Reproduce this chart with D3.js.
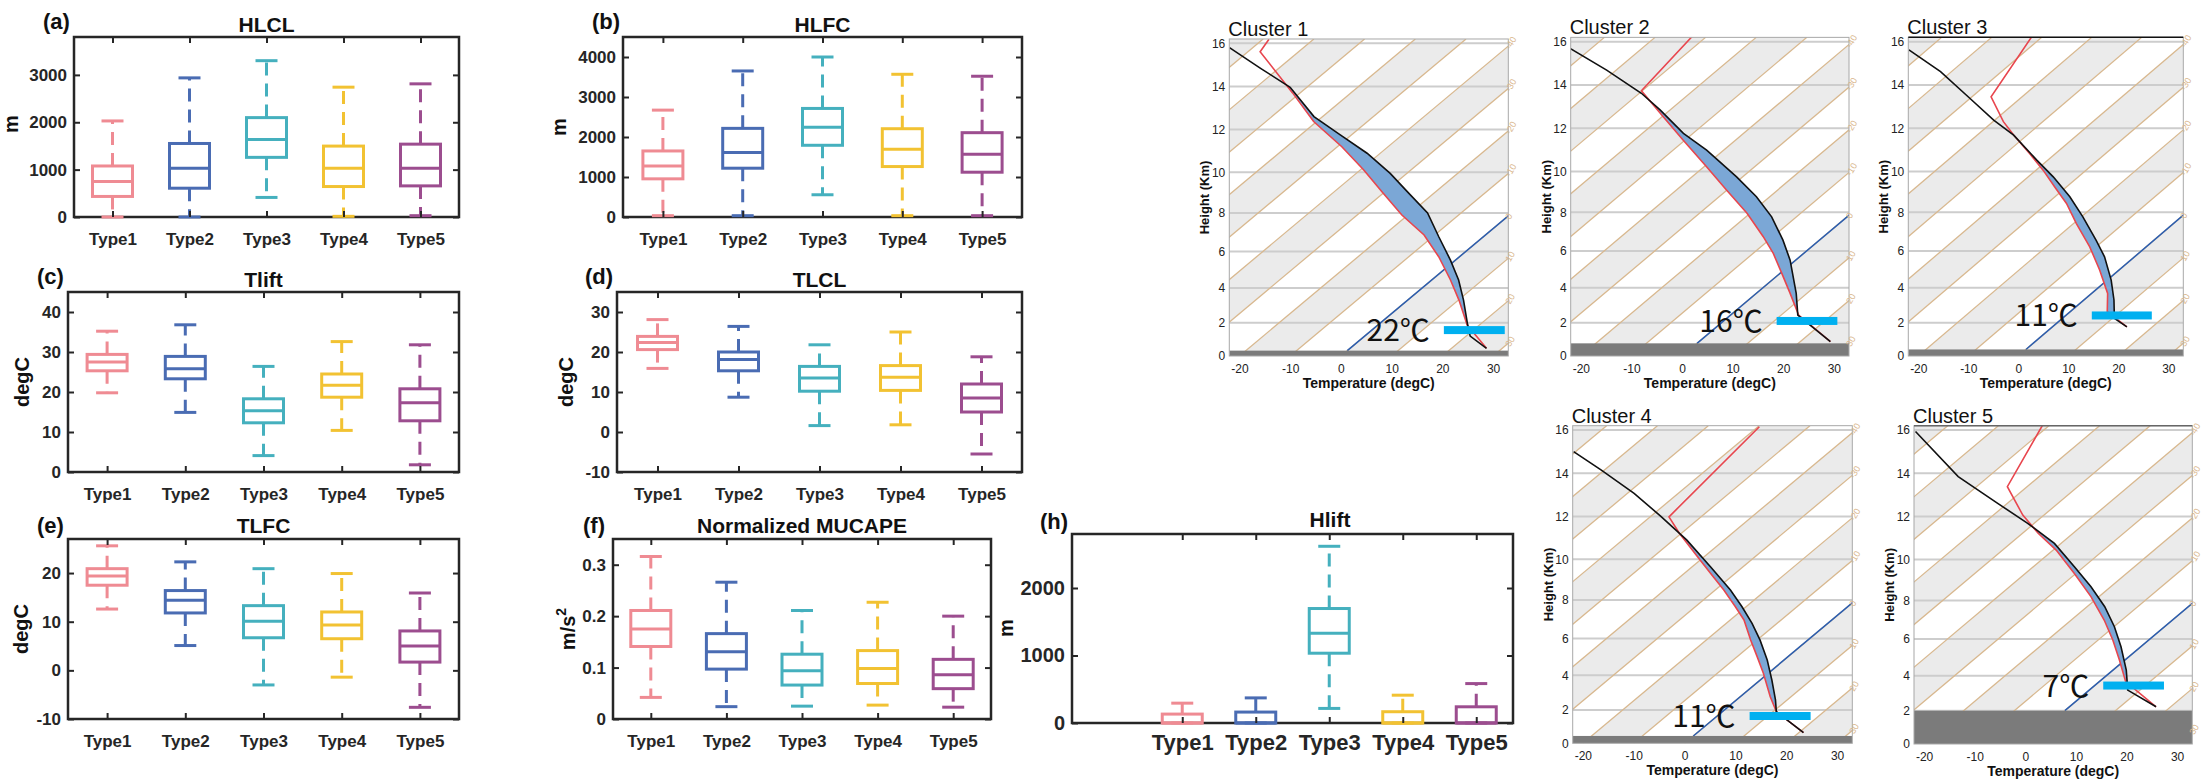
<!DOCTYPE html>
<meta charset="utf-8">
<body style="margin:0">
<script src="https://d3js.org/d3.v7.min.js"></script>
<script>

// Canvas

var width = 2205,
    height = 780;

var svg = d3.select("body").append("svg")
    .attr("width", width)
    .attr("height", height)
    .style("background", "#fff")
    .style("font-family", "'Liberation Sans', Arial, sans-serif");

// ---------- Box plot data: [lower whisker, q1, median, q3, upper whisker] ----------

var types = ["Type1", "Type2", "Type3", "Type4", "Type5"];
var typeColors = ["#ef8b93", "#4a6cb3", "#45b0be", "#f2c232", "#9c4d8f"];

var hlcl = [[0, 434, 748, 1077, 2028], [0, 608, 1028, 1552, 2937], [413, 1259, 1636, 2098, 3300],
            [14, 643, 1028, 1497, 2741], [28, 657, 1028, 1538, 2811]];
var hlfc = [[33, 954, 1278, 1651, 2672], [33, 1220, 1610, 2216, 3651], [556, 1793, 2241, 2714, 4000],
            [33, 1261, 1693, 2207, 3568], [33, 1120, 1568, 2108, 3519]];
var tlift = [[19.8, 25.3, 27.5, 29.4, 35.2], [14.9, 23.3, 25.8, 28.9, 36.8], [4.1, 12.3, 15.3, 18.3, 26.4],
             [10.4, 18.7, 21.7, 24.5, 32.6], [1.8, 12.8, 17.3, 20.8, 31.8]];
var tlcl = [[15.9, 20.6, 22.4, 23.9, 28.1], [8.7, 15.3, 18.1, 20.0, 26.4], [1.6, 10.2, 13.5, 16.4, 21.8],
            [1.8, 10.4, 13.7, 16.6, 25.0], [-5.5, 5.0, 8.5, 12.0, 18.8]];
var tlfc = [[12.6, 17.5, 19.4, 20.9, 25.6], [5.1, 11.8, 14.4, 16.4, 22.3], [-3.0, 6.7, 10.1, 13.3, 20.9],
            [-1.4, 6.5, 9.3, 12.0, 19.9], [-7.6, 1.7, 5.0, 8.1, 15.9]];
var mucape = [[0.042, 0.141, 0.175, 0.211, 0.316], [0.024, 0.097, 0.131, 0.166, 0.266], [0.025, 0.066, 0.094, 0.126, 0.211],
              [0.027, 0.069, 0.098, 0.133, 0.227], [0.023, 0.059, 0.086, 0.116, 0.200]];
var hlift = [[0, 0, 0, 132, 294], [0, 0, 0, 162, 372], [216, 1034, 1328, 1696, 2618],
             [0, 0, 0, 167, 412], [0, 0, 0, 240, 584]];

var hlclTicks = [0, 1000, 2000, 3000];
var hlfcTicks = [0, 1000, 2000, 3000, 4000];
var tliftTicks = [0, 10, 20, 30, 40];
var tlclTicks = [-10, 0, 10, 20, 30];
var tlfcTicks = [-10, 0, 10, 20];
var mucapeTicks = [0, 0.1, 0.2, 0.3];
var hliftTicks = [0, 1000, 2000];

// ---------- Sounding data: [height km, temperature degC] ----------

var clusterNames = ["Cluster 1", "Cluster 2", "Cluster 3", "Cluster 4", "Cluster 5"];
var lclLabels = ["22\u2103", "16\u2103", "11\u2103", "11\u2103", "7\u2103"];
var lclKm = [1.57, 2.1, 2.42, 1.65, 3.45];
var groundKm = [0.33, 0.77, 0.4, 0.45, 2.0];
var heightTicks = [0, 2, 4, 6, 8, 10, 12, 14, 16];
var tempTicks = [-20, -10, 0, 10, 20, 30];
var isoLabels = [-40, -30, -20, -10, 0, 10, 20, 30];

var env1 = [[0.47, 26.9], [1.87, 17.6], [3.32, 10.1], [4.45, 3.7], [5.72, -4.1], [6.87, -12.1], [7.9, -21.2],
            [9.06, -30.6], [10.11, -39.3], [11.2, -49.1], [12.37, -60.6], [13.7, -71.5], [15.61, -87.6], [16.19, -88.8]];
var parcel1 = [[0.47, 26.9], [1.21, 20.8], [1.87, 17.7], [3.32, 11.0], [4.45, 5.3], [5.54, -1.0], [6.78, -8.8],
               [8.0, -16.6], [8.98, -24.9], [9.95, -33.3], [10.9, -42.6], [11.75, -52.2], [12.6, -61.7],
               [13.96, -73.3], [14.84, -83.6], [15.8, -94.6]];

var env2 = [[0.87, 25.97], [2.44, 13.46], [3.68, 6.7], [4.79, 0.37], [5.87, -6.0], [6.75, -11.9], [7.95, -20.6],
            [9.1, -30.1], [10.22, -39.5], [11.46, -50.4], [12.54, -59.8], [13.74, -70.2], [16.26, -72.9]];
var parcel2 = [[0.87, 25.97], [2.44, 13.3], [3.68, 7.9], [5.51, -1.1], [6.57, -7.2], [7.77, -14.9], [8.77, -22.6],
               [9.74, -31.2], [11.0, -43.4], [11.77, -51.9], [12.85, -62.0], [13.62, -69.6], [14.69, -81.9], [15.69, -94.2]];

var env3 = [[1.75, 14.9], [2.64, 7.4], [3.68, 3.2], [4.98, -3.9], [6.22, -11.3], [7.44, -19.5], [8.44, -26.1],
            [9.26, -32.4], [10.06, -38.6], [10.84, -45.2], [11.69, -52.7], [12.31, -57.9], [13.46, -66.2], [16.26, -72.2]];
var parcel3 = [[1.75, 14.9], [2.25, 10.4], [3.31, 6.0], [4.42, 0.8], [5.69, -6.0], [6.57, -11.6], [7.77, -19.7],
               [8.77, -27.0], [9.74, -35.0], [10.53, -42.2], [11.69, -52.7], [12.38, -60.2], [13.38, -70.0],
               [14.62, -82.2], [15.62, -93.6]];

var env4 = [[0.65, 20.9], [1.91, 10.6], [2.78, 5.9], [4.1, -0.9], [5.03, -6.1], [5.93, -11.3], [6.98, -17.3],
            [7.66, -22.1], [8.5, -28.3], [9.32, -34.8], [10.12, -41.3], [11.22, -50.4], [11.98, -56.3], [16.15, -59.7]];
var parcel4 = [[0.65, 20.9], [1.91, 10.6], [2.59, 7.7], [3.73, 2.3], [4.84, -3.3], [5.92, -9.4], [6.8, -14.9],
               [7.66, -20.8], [8.5, -27.0], [9.64, -36.4], [10.9, -47.3], [12.0, -58.0], [13.07, -68.7],
               [14.15, -80.7], [15.0, -90.4]];

var env5 = [[2.23, 17.1], [3.67, 5.2], [4.87, -1.1], [5.95, -7.1], [7.0, -13.5], [8.19, -21.6], [9.33, -30.3],
            [10.45, -39.4], [11.23, -46.9], [12.07, -54.2], [13.38, -63.9], [16.23, -71.4]];
var parcel5 = [[2.23, 17.1], [3.19, 7.6], [4.32, 2.6], [5.59, -3.9], [6.65, -9.9], [7.68, -16.5], [8.68, -23.9],
               [9.66, -31.9], [10.76, -41.3], [11.69, -51.3], [12.61, -61.9], [13.85, -76.0], [15.93, -95.0]];

var envs = [env1, env2, env3, env4, env5];
var parcels = [parcel1, parcel2, parcel3, parcel4, parcel5];

// ---------- Box plot panels ----------

var boxPanels = [
  {tag: "(a)", title: "HLCL", stats: hlcl, domain: [0, 3800], ticks: hlclTicks, x0: 74, x1: 459, y0: 37, y1: 217,
   tagX: 43, tagY: 29, titleX: 266.5, titleY: 32, unitX: 18, unitY: 124, xDomain: [0.5, 5.5]},
  {tag: "(b)", title: "HLFC", stats: hlfc, domain: [0, 4500], ticks: hlfcTicks, x0: 623, x1: 1022, y0: 37, y1: 217,
   tagX: 592, tagY: 29, titleX: 822.5, titleY: 32, unitX: 566, unitY: 127, xDomain: [0.5, 5.5]},
  {tag: "(c)", title: "Tlift", stats: tlift, domain: [0, 45], ticks: tliftTicks, x0: 68, x1: 459, y0: 292, y1: 472,
   tagX: 37, tagY: 284, titleX: 263.5, titleY: 287, unitX: 29, unitY: 382, xDomain: [0.5, 5.5], unit: "degC"},
  {tag: "(d)", title: "TLCL", stats: tlcl, domain: [-10, 35], ticks: tlclTicks, x0: 617, x1: 1022, y0: 292, y1: 472,
   tagX: 585, tagY: 284, titleX: 819.5, titleY: 287, unitX: 573, unitY: 382, xDomain: [0.5, 5.5], unit: "degC"},
  {tag: "(e)", title: "TLFC", stats: tlfc, domain: [-10, 27], ticks: tlfcTicks, x0: 68, x1: 459, y0: 539, y1: 719,
   tagX: 37, tagY: 533, titleX: 263.5, titleY: 533, unitX: 28, unitY: 629, xDomain: [0.5, 5.5], unit: "degC"},
  {tag: "(f)", title: "Normalized MUCAPE", stats: mucape, domain: [0, 0.35], ticks: mucapeTicks, x0: 613, x1: 991, y0: 539, y1: 719,
   tagX: 583, tagY: 533, titleX: 802, titleY: 533, unitX: 575, unitY: 629, xDomain: [0.5, 5.5], unit: "m/s2"},
  {tag: "(h)", title: "Hlift", stats: hlift, domain: [0, 2800], ticks: hliftTicks, x0: 1072, x1: 1513, y0: 534, y1: 723,
   tagX: 1040, tagY: 529, titleX: 1330, titleY: 527, unitX: 1013, unitY: 628, xDomain: [-0.5, 5.5],
   tickFont: 20, catFont: 22, catPad: 11}
];

function drawBoxPanel(p) {
  var x = d3.scaleLinear().domain(p.xDomain).range([p.x0, p.x1]);
  var y = d3.scaleLinear().domain(p.domain).range([p.y1, p.y0]);
  var g = svg.append("g");
  var boxW = 40, capW = 22, ink = "#262626";

  // frame
  g.append("rect")
      .attr("x", p.x0).attr("y", p.y0)
      .attr("width", p.x1 - p.x0).attr("height", p.y1 - p.y0)
      .attr("fill", "none").attr("stroke", ink).attr("stroke-width", 2.5);

  // boxes
  p.stats.forEach(function(s, i) {
    var cx = x(i + 1);
    var b = g.append("g").attr("stroke", typeColors[i]).attr("stroke-width", 3).attr("fill", "none");
    if (s[4] > s[3]) b.append("line").attr("x1", cx).attr("x2", cx).attr("y1", y(s[3])).attr("y2", y(s[4]))
        .attr("stroke-dasharray", "13,8");
    if (s[1] > s[0]) b.append("line").attr("x1", cx).attr("x2", cx).attr("y1", y(s[1])).attr("y2", y(s[0]))
        .attr("stroke-dasharray", "13,8");
    [s[0], s[4]].forEach(function(v) {
      b.append("line").attr("x1", cx - capW / 2).attr("x2", cx + capW / 2).attr("y1", y(v)).attr("y2", y(v));
    });
    b.append("rect").attr("x", cx - boxW / 2).attr("y", y(s[3]))
        .attr("width", boxW).attr("height", Math.max(0, y(s[1]) - y(s[3])));
    b.append("line").attr("x1", cx - boxW / 2).attr("x2", cx + boxW / 2).attr("y1", y(s[2])).attr("y2", y(s[2]));
  });

  // axes with inward ticks
  var tf = p.tickFont || 17, cf = p.catFont || 17;
  var cats = [1, 2, 3, 4, 5];
  var axes = [
    g.append("g").attr("transform", "translate(" + p.x0 + ",0)")
        .call(d3.axisLeft(y).tickValues(p.ticks).tickSize(-6).tickPadding(7).tickFormat(function(d) { return String(d); })),
    g.append("g").attr("transform", "translate(" + p.x1 + ",0)")
        .call(d3.axisRight(y).tickValues(p.ticks).tickSize(-6).tickFormat("")),
    g.append("g").attr("transform", "translate(0," + p.y1 + ")")
        .call(d3.axisBottom(x).tickValues(cats).tickSize(-6).tickPadding(p.catPad || 16)
        .tickFormat(function(d) { return types[d - 1]; })),
    g.append("g").attr("transform", "translate(0," + p.y0 + ")")
        .call(d3.axisTop(x).tickValues(cats).tickSize(-6).tickFormat(""))
  ];
  axes.forEach(function(a, i) {
    a.select(".domain").remove();
    a.selectAll(".tick line").attr("stroke", ink).attr("stroke-width", 2);
    a.selectAll("text").attr("fill", ink).attr("font-weight", "bold")
        .attr("font-size", i === 2 ? cf : tf);
  });

  // labels
  g.append("text").attr("x", p.tagX).attr("y", p.tagY)
      .attr("font-size", 22).attr("font-weight", "bold").attr("fill", "#111").text(p.tag);
  g.append("text").attr("x", p.titleX).attr("y", p.titleY).attr("text-anchor", "middle")
      .attr("font-size", 21).attr("font-weight", "bold").attr("fill", "#111").text(p.title);

  var u = g.append("text")
      .attr("transform", "translate(" + p.unitX + "," + p.unitY + ") rotate(-90)")
      .attr("text-anchor", "middle").attr("font-size", 20).attr("font-weight", "bold").attr("fill", "#111");
  if (p.unit === "m/s2") {
    u.append("tspan").text("m/s");
    u.append("tspan").attr("font-size", 14).attr("dy", -9).text("2");
  } else {
    u.text(p.unit || "m");
  }
}

boxPanels.forEach(drawBoxPanel);

// ---------- Skew-T panels ----------

function pres(h) {
  return h <= 11 ? 1013.25 * Math.pow(1 - 0.0225577 * h, 5.25588)
                 : 226.32 * Math.exp(-(h - 11) / 6.3416);
}

var skewC = 32.2,   // degC shift per unit ln(p0/p)
    topKm = 16.2;

var skewPanels = [
  {left: 1229.3, right: 1508.3, base: 356, top16: 43.3, barStart: 20.3},
  {left: 1570.7, right: 1849, base: 356, top16: 41.7, barStart: 18.7},
  {left: 1908.3, right: 2183.3, base: 356, top16: 41.7, barStart: 14.7, topLine: "#111"},
  {left: 1572.7, right: 1852.3, base: 743.3, top16: 430, barStart: 12.8},
  {left: 1914, right: 2192.3, base: 744, top16: 430, barStart: 15.4, topLine: "#666"}
];

function drawSkewT(p, k) {
  var xs = d3.scaleLinear().domain([-22, 33]).range([p.left, p.right]);
  var ys = d3.scaleLog().domain([pres(0), pres(16)]).range([p.base, p.top16]);
  var sh = function(h) { return Math.log(pres(0) / pres(h)); };
  var X = function(h, T) { return xs(T + skewC * sh(h)); };
  var Y = function(h) { return ys(pres(h)); };
  var yTop = Y(topKm);
  var g = svg.append("g");

  svg.append("clipPath").attr("id", "clip" + k).append("rect")
      .attr("x", p.left).attr("y", yTop).attr("width", p.right - p.left).attr("height", p.base - yTop);
  var inner = g.append("g").attr("clip-path", "url(#clip" + k + ")");

  // alternating isotherm bands
  d3.range(-120, 40, 10).forEach(function(T) {
    if (Math.abs(Math.floor(T / 10)) % 2 !== 0) return;
    inner.append("path")
        .attr("d", "M" + [X(0, T), Y(0)] + "L" + [X(0, T + 10), Y(0)] +
                   "L" + [X(topKm, T + 10), yTop] + "L" + [X(topKm, T), yTop] + "Z")
        .attr("fill", "#ebebeb");
  });

  // height grid
  heightTicks.forEach(function(h) {
    inner.append("line").attr("x1", p.left).attr("x2", p.right).attr("y1", Y(h)).attr("y2", Y(h))
        .attr("stroke", "#cdcdcd").attr("stroke-width", 2);
  });

  // isotherms
  d3.range(-120, 40, 10).forEach(function(T) {
    inner.append("line")
        .attr("x1", X(0, T)).attr("y1", Y(0)).attr("x2", X(topKm, T)).attr("y2", yTop)
        .attr("stroke", "#d8b88f").attr("stroke-width", 1.3);
  });

  // 0 degC isotherm
  inner.append("line")
      .attr("x1", X(groundKm[k], 0)).attr("y1", Y(groundKm[k])).attr("x2", X(topKm, 0)).attr("y2", yTop)
      .attr("stroke", "#2a5db0").attr("stroke-width", 1.5);

  // positive area between parcel and environment
  var env = envs[k], par = parcels[k];
  var interp = function(c) {
    return d3.scaleLinear().domain(c.map(function(d) { return sh(d[0]); })).range(c.map(function(d) { return d[1]; }));
  };
  var envI = interp(env), parI = interp(par);
  var lo = Math.max(env[0][0], par[0][0]), hi = Math.min(env[env.length - 1][0], par[par.length - 1][0]);
  var hs = d3.range(lo, hi, 0.01);
  inner.append("path").datum(hs)
      .attr("fill", "#7ba7d6")
      .attr("d", d3.area()
          .defined(function(h) { return parI(sh(h)) > envI(sh(h)); })
          .y(function(h) { return Y(h); })
          .x0(function(h) { return X(h, envI(sh(h))); })
          .x1(function(h) { return X(h, parI(sh(h))); }));

  var line = d3.line().x(function(d) { return X(d[0], d[1]); }).y(function(d) { return Y(d[0]); });
  inner.append("path").datum(env).attr("d", line).attr("fill", "none").attr("stroke", "#e8464e").attr("stroke-width", 1.6);
  inner.append("path").datum(par).attr("d", line).attr("fill", "none").attr("stroke", "#111").attr("stroke-width", 1.6);

  // ground
  inner.append("rect").attr("x", p.left).attr("y", Y(groundKm[k]))
      .attr("width", p.right - p.left).attr("height", p.base - Y(groundKm[k])).attr("fill", "#7b7b7b");

  // LCL marker
  g.append("rect").attr("x", xs(p.barStart)).attr("y", Y(lclKm[k]) - 4)
      .attr("width", xs(p.barStart + 12) - xs(p.barStart)).attr("height", 8).attr("fill", "#00b0f0");
  g.append("text").attr("x", xs(p.barStart) - 14).attr("y", Y(lclKm[k]) + 11)
      .attr("text-anchor", "end").attr("font-family", "'Noto Sans CJK SC', 'Noto Sans', sans-serif")
      .attr("font-size", 30).attr("fill", "#111").text(lclLabels[k]);

  // frame
  g.append("rect").attr("x", p.left).attr("y", yTop).attr("width", p.right - p.left).attr("height", p.base - yTop)
      .attr("fill", "none").attr("stroke", "#a8a8a8").attr("stroke-width", 1);
  if (p.topLine) g.append("line").attr("x1", p.left).attr("x2", p.right).attr("y1", yTop).attr("y2", yTop)
      .attr("stroke", p.topLine).attr("stroke-width", 1.5);

  // axes
  var ay = g.append("g").attr("transform", "translate(" + p.left + ",0)")
      .call(d3.axisLeft(ys).tickValues(heightTicks.map(pres)).tickSize(0).tickPadding(4)
      .tickFormat(function(d, i) { return heightTicks[i]; }));
  var ax = g.append("g").attr("transform", "translate(0," + p.base + ")")
      .call(d3.axisBottom(xs).tickValues(tempTicks).tickSize(0).tickPadding(8)
      .tickFormat(function(d) { return String(d); }));
  [ay, ax].forEach(function(a) {
    a.select(".domain").remove();
    a.selectAll("text").attr("font-size", 12).attr("fill", "#222")
        .attr("font-family", "'Liberation Sans', Arial, sans-serif");
  });

  // isotherm labels on the right edge
  isoLabels.forEach(function(T) {
    var yy = ys(pres(0) * Math.exp(-(33 - T) / skewC));
    g.append("text").attr("transform", "translate(" + (p.right + 2) + "," + (yy + 4) + ") rotate(-60)")
        .attr("font-size", 9).attr("fill", "#d9b68c").text(T);
  });

  // titles
  g.append("text").attr("x", p.left - 1).attr("y", yTop - 3)
      .attr("font-size", 20).attr("fill", "#111").text(clusterNames[k]);
  g.append("text").attr("transform", "translate(" + (p.left - 20) + "," + ((p.base + yTop) / 2) + ") rotate(-90)")
      .attr("text-anchor", "middle").attr("font-size", 13).attr("font-weight", "bold").attr("fill", "#111")
      .text("Height (Km)");
  g.append("text").attr("x", (p.left + p.right) / 2).attr("y", p.base + 32)
      .attr("text-anchor", "middle").attr("font-size", 14).attr("font-weight", "bold").attr("fill", "#111")
      .text("Temperature (degC)");
}

skewPanels.forEach(drawSkewT);

</script>
</html>
